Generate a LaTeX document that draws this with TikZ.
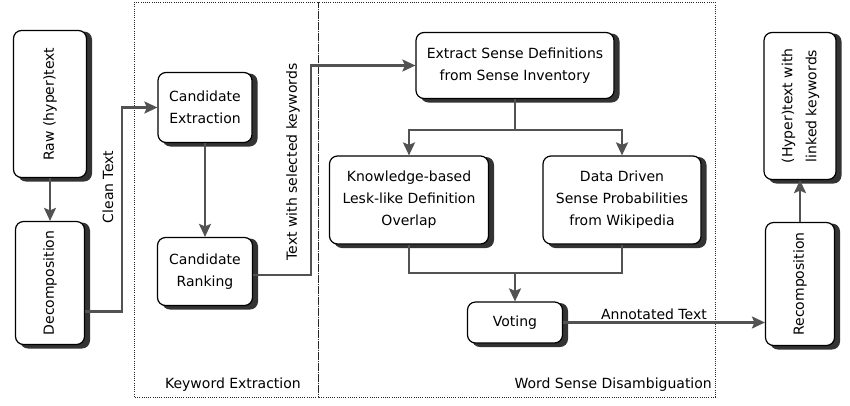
\documentclass[tikz,border=0pt]{standalone}
\usepackage{fontspec}
\setmainfont{DejaVu Sans}
\usetikzlibrary{arrows.meta,calc}
\newcommand\shbox[6]{%
  \fill[shadowbox] ({#2-#4/2+4.5},{#3-#5/2+1}) rectangle ({#2+#4/2+5.5},{#3+#5/2+4});
  \node[box, minimum width=#4pt, minimum height=#5pt] (#1) at (#2,#3) {#6};}
\begin{document}
\begin{tikzpicture}[x=1pt,y=-1pt,
  box/.style={draw=black, line width=1.2pt, rounded corners=8pt, fill=white,
    align=center, inner sep=0pt, font=\fontsize{14}{22}\selectfont},
  shadowbox/.style={fill=black!80, rounded corners=8pt},
  line/.style={draw=black!68, line width=2.3pt},
  conn/.style={line, -{Stealth[length=13pt,width=12pt,inset=2.5pt]}},
  frame/.style={draw=black!85, line width=0.8pt, dash pattern=on 0.8pt off 1.4pt},
  lbl/.style={font=\fontsize{14}{16}\selectfont, inner sep=1pt}]
\useasboundingbox (0,0) rectangle (850,405);
% frames
\draw[frame] (134,2) rectangle (318,397);
\draw[frame] (318,2) rectangle (715,397);
\node[lbl, anchor=east] (kwt) at (302,385) {Keyword Extraction};
\node[lbl, anchor=east] (wsdt) at (713,385) {Word Sense Disambiguation};
% nodes
\shbox{raw}{50}{104}{73}{147}{\rotatebox{90}{Raw (hyper)text}}
\shbox{decomp}{50}{283}{69}{123}{\rotatebox{90}{Decomposition}}
\shbox{cext}{205}{107.5}{94}{70}{Candidate\\Extraction}
\shbox{crank}{205}{271.5}{95}{68}{Candidate\\Ranking}
\shbox{extract}{515}{65.5}{198}{66}{Extract Sense Definitions\\from Sense Inventory}
\shbox{know}{409}{200}{159}{88}{Knowledge-based\\Lesk-like Definition\\Overlap}
\shbox{data}{622}{200}{158}{88}{Data Driven\\Sense Probabilities\\from Wikipedia}
\shbox{voting}{515}{322.5}{95}{41}{Voting}
\shbox{recomp}{800}{284}{69}{123}{\rotatebox{90}{Recomposition}}
\shbox{hyper}{800}{106}{72}{147}{\rotatebox{90}{\begin{tabular}{@{}c@{}}(Hyper)text with\\[2pt] linked keywords\end{tabular}}}
% connectors
\draw[conn] (raw.south) -- (decomp.north);
\coordinate (ct) at (122,0);
\draw[conn] ([yshift=-28.5pt]decomp.east) -| (ct |- cext.west) -- (cext.west);
\node[lbl, rotate=90] (cleantext) at (108,187) {Clean Text};
\draw[conn] (cext.south) -- (crank.north);
\coordinate (tt) at (311,0);
\draw[conn] ([yshift=-3.5pt]crank.east) -| (tt |- extract.west) -- (extract.west);
\node[lbl, rotate=90] (twsk) at (293,162) {Text with selected keywords};
\coordinate (split) at ($(extract.south)+(0,31)$);
\draw[line] (extract.south) -- (split);
\draw[conn] (split) -| (know.north);
\draw[conn] (split) -| (data.north);
\coordinate (merge) at (515,273);
\draw[line] (know.south) |- (merge);
\draw[line] (data.south) |- (merge);
\draw[conn] (merge) -- (voting.north);
\draw[conn] (voting.east) -- (voting.east -| recomp.west) node[lbl, pos=0.45, above=1pt] (annot) {Annotated Text};
\draw[conn] (recomp.north) -- (hyper.south);
\end{tikzpicture}
\end{document}
